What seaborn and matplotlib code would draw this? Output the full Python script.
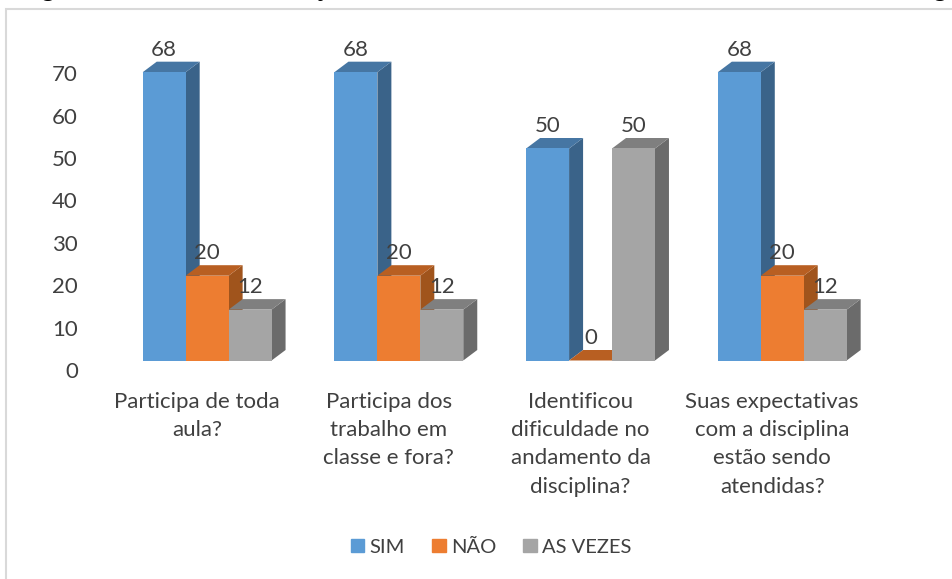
import matplotlib
matplotlib.use("Agg")
import matplotlib.pyplot as plt
from matplotlib.patches import Polygon, Rectangle
from matplotlib.transforms import ScaledTranslation
import seaborn as sns
import pandas as pd

categories = ["Participa de toda\naula?", "Participa dos\ntrabalho em\nclasse e fora?",
              "Identificou\ndificuldade no\nandamento da\ndisciplina?",
              "Suas expectativas\ncom a disciplina\nestão sendo\natendidas?"]
sim = [68, 68, 50, 68]
nao = [20, 20, 0, 20]
as_vezes = [12, 12, 50, 12]
series_names = ["SIM", "NÃO", "AS VEZES"]
yticks = [0, 10, 20, 30, 40, 50, 60, 70]

colors = ["#5B9BD5", "#ED7D31", "#A5A5A5"]
top_colors = ["#4676A3", "#B85F22", "#7F7F7F"]
side_colors = ["#3A6389", "#A0541C", "#6B6B6B"]
text_color = "#404040"

W, H = 953, 579
FS = 16
df = pd.DataFrame({
    "cat": categories * 3,
    "serie": [s for s in series_names for _ in categories],
    "valor": sim + nao + as_vezes,
})

sns.set_theme(style="white")
plt.rcParams["font.family"] = ["Lato", "DejaVu Sans"]

fig = plt.figure(figsize=(W / 100, H / 100), dpi=100)
# eixo: base em y=360.5 px, 191.7 px por categoria
ax = fig.add_axes([111.3 / W, (H - 360.5) / H, 766.8 / W, 330 / H])
sns.barplot(data=df, x="cat", y="valor", hue="serie", palette=colors, width=0.672,
            saturation=1, legend=False, linewidth=0, ax=ax)
ax.set_xlim(-0.5, 3.5)
ax.set_ylim(0, 330 / 4.24)
ax.set_xlabel("")
ax.set_ylabel("")
ax.set_yticks(yticks)
sns.despine(ax=ax, left=True, bottom=True)
ax.tick_params(axis="both", length=0, labelsize=FS, labelcolor=text_color)
ax.tick_params(axis="y", pad=24)
ax.tick_params(axis="x", pad=22.7)
ax.patch.set_alpha(0)

# profundidade do efeito 3D, em unidades dos dados
dx = 14 * 4 / 766.8
dy = 10.5 / 4.24

for i, cont in enumerate(ax.containers):
    for bar in cont:
        x0 = bar.get_x()
        x1 = x0 + bar.get_width()
        h = bar.get_height()
        bar.set_zorder(2.5 + i)
        ax.add_patch(Polygon([(x1, 0), (x1 + dx, dy), (x1 + dx, h + dy), (x1, h)],
                             facecolor=side_colors[i], edgecolor="none", zorder=2 + i))
        ax.add_patch(Polygon([(x0, h), (x0 + dx, h + dy), (x1 + dx, h + dy), (x1, h)],
                             facecolor=top_colors[i], edgecolor="none", zorder=2 + i))
    labels = ax.bar_label(cont, padding=9, fontsize=FS, color=text_color)
    for lab in labels:
        lab.set_zorder(10)

# rótulos dos eixos ficam deslocados em relação às barras
shift_y = ScaledTranslation(0, -0.095, fig.dpi_scale_trans)
shift_x = ScaledTranslation(-0.10, 0, fig.dpi_scale_trans)
for lab in ax.get_yticklabels():
    lab.set_transform(lab.get_transform() + shift_y)
for lab in ax.get_xticklabels():
    lab.set_transform(lab.get_transform() + shift_x)
    lab.set_linespacing(1.51)

handles = [Rectangle((0, 0), 1, 1, color=c) for c in colors]
fig.legend(handles, series_names, loc="center", bbox_to_anchor=(491 / W, (H - 547) / H),
           ncol=3, frameon=False, fontsize=14.5, labelcolor=text_color, handlelength=0.69,
           handleheight=0.69, handletextpad=0.25, columnspacing=1.34)

# moldura do gráfico, cortada à direita e embaixo
fig.add_artist(Rectangle((6 / W, -0.1), 1.1, (H - 9) / H + 0.1, transform=fig.transFigure,
                         facecolor="none", edgecolor="#D9D9D9", linewidth=1.5))

# título cortado na borda superior da imagem
for px, glyph in [(47, "g"), (320, "ç"), (939, "g")]:
    fig.text(px / W, (H + 4) / H, glyph, ha="center", va="baseline", fontsize=20, color="black")

fig.savefig("out.png", dpi=100)
